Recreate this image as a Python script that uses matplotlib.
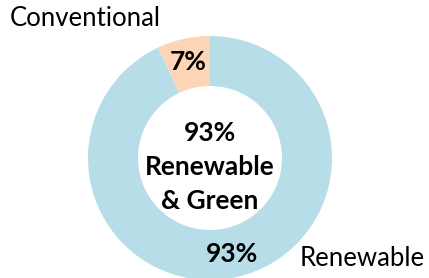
import matplotlib.pyplot as plt

# share of generation
labels = ['Renewable', 'Conventional']
values = [93, 7]
colors = ['#B7DDE8', '#FBD5B5']
center_text = '93%\nRenewable\n& Green'

plt.rcParams['font.family'] = ['Lato', 'DejaVu Sans']

fig = plt.figure(figsize=(4.29, 2.78), dpi=100)
ax = fig.add_axes([0, 0, 1, 1])

wedges, texts, autotexts = ax.pie(
    values, colors=colors, startangle=90, counterclock=False,
    center=(210, 120), radius=122, frame=True,
    wedgeprops=dict(width=50, edgecolor='none'),
    autopct='%d%%', pctdistance=0.81,
    textprops=dict(fontsize=19, fontweight='bold', color='black'))
ax.set_xlim(0, 429)
ax.set_ylim(0, 278)
ax.set_aspect('equal')
ax.axis('off')

ax.text(210, 111, center_text, ha='center', va='center', fontsize=19,
        fontweight='bold', linespacing=1.5)

# category names
ax.text(10, 259, labels[1], ha='left', va='center', fontsize=18.5)
ax.text(300, 20, labels[0], ha='left', va='center', fontsize=18.5)

fig.savefig('out.png', dpi=100)
